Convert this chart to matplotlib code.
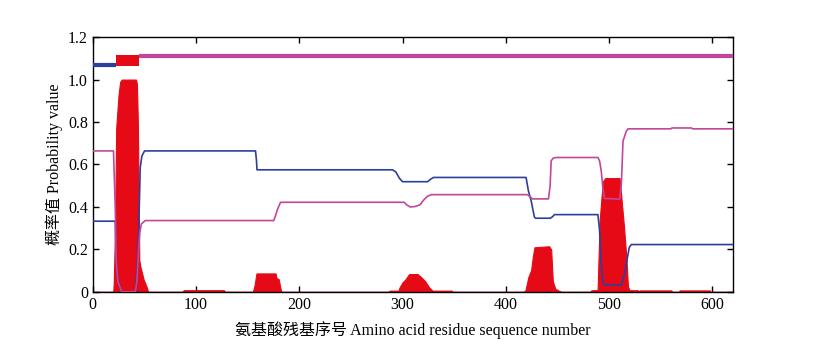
import matplotlib
matplotlib.use("Agg")
import matplotlib.pyplot as plt

plt.rcParams['font.family'] = ['Liberation Serif', 'Noto Sans CJK SC', 'DejaVu Sans']

# ---------------- data ----------------
# top topology bar
top_start = [0, 22.6, 45.0]
top_end = [22.6, 45.0, 620]
top_type = ['inside', 'TM', 'outside']
top_level = [1.069, 1.091, 1.112]

# inside probability (blue)
inside_x = [0, 21.7, 22.6, 24.2, 28, 41, 42.7, 44.3, 45.9, 47.5, 50.1, 157.6, 158.5, 159,
            290.3, 293.5, 297, 300, 324.3, 327, 330, 419.7, 421.9, 424.6, 426.2, 427.8,
            429, 443.3, 445.5, 447.2, 489.3, 490.9, 492.5, 494.1, 495.7, 512, 515.4,
            518, 519.7, 521.7, 620]
inside_y = [0.333, 0.333, 0.15, 0.06, 0.0, 0.0, 0.1, 0.26, 0.585, 0.64, 0.664,
            0.664, 0.62, 0.575, 0.575, 0.565, 0.535, 0.519, 0.519, 0.53, 0.539, 0.539,
            0.477, 0.43, 0.39, 0.352, 0.347, 0.347, 0.355, 0.364, 0.364, 0.29, 0.135,
            0.05, 0.033, 0.033, 0.09, 0.165, 0.21, 0.223, 0.223]

# outside probability (magenta)
outside_x = [0, 20, 21.7, 22.6, 24.2, 28, 41, 42.7, 44.3, 45.5, 47, 50.8, 175.3, 177, 179,
             181.8, 301.6, 304, 307.5, 312, 317, 320, 324, 328, 421, 426, 441.4, 443, 444,
             446, 448.8, 489.3, 490.9, 492.5, 494.1, 495.7, 510.3, 512, 513.6, 516.8,
             518.5, 560, 561, 580, 581, 620]
outside_y = [0.664, 0.664, 0.4, 0.15, 0.05, 0.0, 0.0, 0.05, 0.2, 0.28, 0.32, 0.336,
             0.336, 0.36, 0.39, 0.422, 0.422, 0.41, 0.4, 0.402, 0.41, 0.43, 0.45, 0.458,
             0.458, 0.438, 0.438, 0.5, 0.617, 0.63, 0.633, 0.633, 0.617, 0.57, 0.49,
             0.44, 0.437, 0.508, 0.71, 0.757, 0.768, 0.768, 0.772, 0.772, 0.768, 0.768]

# transmembrane probability (red)
tm_x = [0, 19.8, 20.3, 21.5, 22.6, 24.9, 26.5, 28.1, 41.7, 42.7, 43.6, 44.3, 45, 46,
        47.6, 49.1, 52.4, 53.5,
        87, 88, 127, 128,
        155, 156.6, 158.5, 177, 178, 180, 182.5,
        286, 288, 296, 297, 300, 303, 306.4, 314.5, 318, 322, 326, 329, 347.6, 348,
        417, 419, 421.9, 424.6, 426.2, 427.8, 442, 444, 445.6, 448, 453.7,
        482, 483, 489, 490.9, 492.5, 494.1, 496.4, 510.3, 512, 514.6, 516.8, 518.4,
        520, 528, 528.5,
        529, 529.7, 560.5, 561,
        568, 568.5, 597.7, 598, 620]
tm_y = [0, 0, 0.05, 0.3, 0.77, 0.93, 0.99, 1.0, 1.0, 0.98, 0.8, 0.5, 0.15, 0.12,
        0.09, 0.06, 0.02, 0.0,
        0, 0.008, 0.008, 0,
        0, 0.03, 0.087, 0.087, 0.065, 0.06, 0.0,
        0, 0.006, 0.006, 0.02, 0.045, 0.06, 0.084, 0.084, 0.07, 0.05, 0.02, 0.006,
        0.006, 0,
        0, 0.006, 0.07, 0.103, 0.165, 0.21, 0.215, 0.2, 0.05, 0.015, 0.0,
        0, 0.008, 0.008, 0.33, 0.43, 0.52, 0.536, 0.536, 0.445, 0.305, 0.165, 0.025,
        0.008, 0.008, 0,
        0, 0.007, 0.007, 0,
        0, 0.007, 0.007, 0, 0]

x_ticks = [0, 100, 200, 300, 400, 500, 600]
y_ticks = [0, 0.2, 0.4, 0.6, 0.8, 1.0, 1.2]
y_tick_labels = ['0', '0.2', '0.4', '0.6', '0.8', '1.0', '1.2']

blue = '#2c3f9e'
magenta = '#c2479a'
red = '#e60a17'

# ---------------- plot ----------------
fig = plt.figure(figsize=(8.29, 3.5), dpi=100)
ax = fig.add_axes([0.112, 0.166, 0.772, 0.728])

ax.fill_between(tm_x, 0, tm_y, color=red, linewidth=0.8, edgecolor=red, zorder=2)
ax.plot(inside_x, inside_y, color=blue, linewidth=1.2, zorder=3)
ax.plot(outside_x, outside_y, color=magenta, linewidth=1.2, zorder=3)

for s, e, t, lv in zip(top_start, top_end, top_type, top_level):
    if t == 'inside':
        ax.plot([s, e], [lv, lv], color=blue, linewidth=3, solid_capstyle='butt', zorder=3)
    elif t == 'outside':
        ax.plot([s, e], [lv, lv], color=magenta, linewidth=3, solid_capstyle='butt', zorder=3)
    else:
        ax.fill_between([s, e], lv - 0.027, lv + 0.027, color=red, linewidth=0, zorder=3)

ax.axhline(0, color='#999999', linewidth=1.0, zorder=1)

ax.set_xlim(0, 620)
ax.set_ylim(0, 1.2)
ax.set_xticks(x_ticks)
ax.set_yticks(y_ticks)
ax.set_yticklabels(y_tick_labels)
ax.tick_params(direction='in', top=True, right=True, labelsize=11.5, length=4, width=1)
for sp in ax.spines.values():
    sp.set_linewidth(1.0)

ax.set_xlabel('氨基酸残基序号 Amino acid residue sequence number', fontsize=11.5, labelpad=6)
ax.set_ylabel('概率值 Probability value', fontsize=11.5, labelpad=4)

fig.savefig('out.png', dpi=100)
